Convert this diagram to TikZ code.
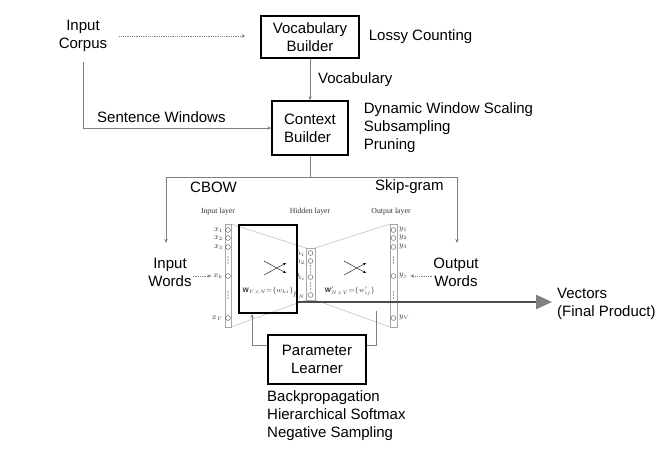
\documentclass[tikz,border=0pt]{standalone}
\usepackage{fontspec}
\setmainfont{Liberation Sans}
\newfontfamily\netfont{Liberation Serif}
\usepackage{amsmath}
\usetikzlibrary{arrows.meta,positioning}
\tikzset{
  box/.style={draw, line width=1.3pt, minimum width=98pt, minimum height=42pt, align=center, inner sep=2pt},
  note/.style={align=left, inner sep=0pt},
  link/.style={draw=gray, line width=0.8pt, -{Stealth[length=4pt,width=3.5pt]}},
  dotlink/.style={link, densely dotted},
  plain/.style={draw=gray, line width=0.8pt},
  layer/.style={draw=gray!70, line width=0.5pt},
  unit/.style={draw=gray!60!black, line width=0.4pt},
  wire/.style={draw=gray!55, line width=0.5pt},
  tiny/.style={font=\netfont\fontsize{7.8}{8}\selectfont, inner sep=0pt, text=black!80},
  weight/.style={tiny, font=\netfont\fontsize{6.6}{7}\selectfont},
  vecarrow/.style={draw=gray!60!black, line width=2.4pt, -{Triangle[length=16pt,width=14pt,color=gray]}}
}
\begin{document}
\begin{tikzpicture}[x=1pt, y=-1pt, font=\fontsize{15}{18}\selectfont]
  \useasboundingbox (0,0) rectangle (672,450);
  % Builders
  \node[note, align=center] (corpus) at (83,36) {Input\\Corpus};
  \node[box] (vocab) at (310,37) {Vocabulary\\Builder};
  \node[box, minimum width=76pt, minimum height=54pt, align=left] (context) at (310,128) {Context\\Builder};
  \node[note, right=9pt of vocab] (lossy) {Lossy Counting};
  \node[note, right=15pt of context] (tricks) {Dynamic Window Scaling\\Subsampling\\Pruning};
  \node[note, anchor=west] (vocablabel) at (318,80) {Vocabulary};
  \node[note, anchor=west] (windows) at (97,117) {Sentence Windows};
  \draw[dotlink, shorten <=12pt, shorten >=15pt] (corpus.east) -- (corpus.east -| vocab.west);
  \draw[link] (vocab) -- (context);
  \draw[link, shorten <=10pt] (corpus.south) |- (context.west);
  % Model split
  \node[note, anchor=west] (cbow) at (190,187) {CBOW};
  \node[note, anchor=west] (skipgram) at (375,187) {Skip-gram};
  \coordinate (fork) at (310,177);
  \coordinate (cbowtip) at (166,243);
  \coordinate (skiptip) at (457,243);
  \draw[plain] (context.south) -- (fork);
  \draw[link] (fork) -| (cbowtip);
  \draw[link] (fork) -| (skiptip);
  % Network: layers
  \node[tiny] (inlayer) at (218,212) {Input layer};
  \node[tiny] (hidlayer) at (310,212) {Hidden layer};
  \node[tiny] (outlayer) at (391,212) {Output layer};
  \draw[wire] (231,224) -- (306,248) (231,327) -- (306,300) (315,248) -- (390,224) (315,300) -- (390,327);
  \draw[layer] (225,224) rectangle (231,327);
  \draw[layer] (306,248) rectangle (315,300);
  \draw[layer] (390,224) rectangle (397,327);
  \foreach \y/\s in {230/1,238/2,247/3,276/k,318/V} {
    \draw[unit] (228,\y) circle (2.4pt);
    \node[tiny, anchor=east] (x\s) at (223,\y) {$x_{\s}$};
  }
  \foreach \y/\s in {253/1,261/2,277/i,295/N} {
    \draw[unit] (310.5,\y) circle (2.4pt);
    \node[tiny, anchor=east] (h\s) at (305,\y) {$h_{\s}$};
  }
  \foreach \y/\s in {230/1,238/2,247/3,276/j,318/V} {
    \draw[unit] (393.5,\y) circle (2.4pt);
    \node[tiny, anchor=west] (y\s) at (399,\y) {$y_{\s}$};
  }
  \foreach \x/\y in {228/260,228/295,310.5/269,310.5/286,393.5/260,393.5/295}
    \foreach \d in {-3,0,3} \fill[gray!40!black] (\x,\y+\d) circle (0.7pt);
  % Weights
  \node[draw, line width=2.2pt, minimum width=58pt, minimum height=88pt] (wbox) at (268,269) {};
  \foreach \cx in {275,355} {
    \draw[line width=0.4pt, -{Stealth[length=3pt,width=2.5pt]}] (\cx-11,261) -- (\cx+11,273);
    \draw[line width=0.4pt, -{Stealth[length=3pt,width=2.5pt]}] (\cx-11,275) -- (\cx+11,263);
  }
  \node[weight] (win) at (268,291) {$\mathbf{W}_{V\times N}{=}\{w_{ki}\}$};
  \node[weight] (wout) at (350,291) {$\mathbf{W}'_{N\times V}{=}\{w'_{ij}\}$};
  % Words in and out
  \node[note, align=center] (inwords) at (170,272) {Input\\Words};
  \node[note, align=center] (outwords) at (456,272) {Output\\Words};
  \draw[dotlink, shorten <=1pt, shorten >=2pt] (inwords.east |- xk) -- (xk.west);
  \draw[dotlink, shorten <=1pt, shorten >=3pt] (outwords.west |- yj) -- (yj.east);
  % Output vectors
  \node[note, anchor=west] (vectors) at (557,304) {Vectors\\(Final Product)};
  \draw[vecarrow, shorten >=5pt] (wbox.east |- 0,302) -- (vectors.west |- 0,302);
  % Learner
  \node[box, minimum height=49pt] (learner) at (317,359.5) {Parameter\\Learner};
  \coordinate (wrtail) at (376,311);
  \draw[link] ([yshift=14.5pt]learner.west) -| ([xshift=-16pt]wbox.south);
  \draw[plain] ([yshift=14.5pt]learner.east) -| (wrtail);
  \node[note, anchor=west] (methods) at (267,416) {Backpropagation\\Hierarchical Softmax\\Negative Sampling};
\end{tikzpicture}
\end{document}
